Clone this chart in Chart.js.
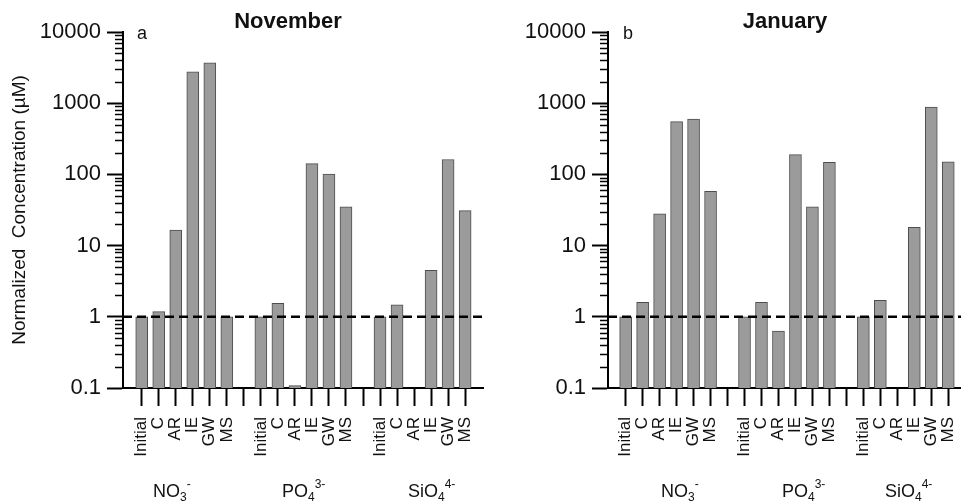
<!DOCTYPE html>
<html>
<head>
<meta charset="utf-8">
<script src="https://cdn.jsdelivr.net/npm/chart.js@4.4.1/dist/chart.umd.min.js"></script>
<style>
  html, body { margin: 0; padding: 0; background: #fff; }
  #wrap { position: relative; width: 961px; height: 501px; overflow: hidden; }
  canvas { position: absolute; top: 0; }
  #novChart { left: 0; }
  #janChart { left: 480px; }
</style>
</head>
<body>
<div id="wrap">
  <canvas id="novChart" width="520" height="501"></canvas>
  <canvas id="janChart" width="520" height="501"></canvas>
</div>
<script>
// ---------- data ----------
const treatments = ['Initial', 'C', 'AR', 'IE', 'GW', 'MS'];
const yTicks = [0.1, 1, 10, 100, 1000, 10000];
const refValue = 1;

// November
const novNO3  = [1, 1.18, 16.5, 2750, 3700, 1];
const novPO4  = [1, 1.55, 0.108, 142, 101, 35];
const novSiO4 = [1, 1.47, null, 4.5, 162, 31];

// January
const janNO3  = [1, 1.6, 28, 550, 600, 58];
const janPO4  = [1, 1.6, 0.63, 190, 35, 148];
const janSiO4 = [1, 1.7, null, 18, 880, 150];

const FONT = '"Liberation Sans", Arial, Helvetica, sans-serif';

// x slots: 6 treatments + 1 empty slot per nutrient group
const slotLabels = [];
[0, 1, 2].forEach(g => {
    treatments.forEach(t => slotLabels.push(t));
    if (g < 2) slotLabels.push('');
});

function toPoints(groups) {
    const pts = [];
    groups.forEach((vals, g) => {
        vals.forEach((v, i) => pts.push({ x: g * 7 + i, y: v }));
    });
    return pts;
}

// ---------- extra drawing: ref line, minor ticks, texts ----------
const decorPlugin = {
    id: 'decor',
    afterDatasetsDraw(chart) {
        const { ctx, chartArea, scales } = chart;
        const y = scales.y.getPixelForValue(refValue);
        ctx.save();
        ctx.strokeStyle = '#000';
        ctx.lineWidth = 2.5;
        ctx.setLineDash([9, 5]);
        ctx.beginPath();
        ctx.moveTo(chartArea.left, y);
        ctx.lineTo(chartArea.right, y);
        ctx.stroke();
        ctx.restore();
    },
    afterDraw(chart, args, opts) {
        const { ctx, chartArea, scales } = chart;
        ctx.save();
        // minor log ticks
        ctx.strokeStyle = '#000';
        ctx.lineWidth = 1.5;
        for (let e = -1; e < 4; e++) {
            for (let m = 2; m <= 9; m++) {
                const py = Math.round(scales.y.getPixelForValue(m * Math.pow(10, e))) + 0.5;
                ctx.beginPath();
                ctx.moveTo(chartArea.left - 8, py);
                ctx.lineTo(chartArea.left, py);
                ctx.stroke();
            }
        }
        // panel title + letter
        ctx.fillStyle = '#111';
        ctx.textAlign = 'center';
        ctx.textBaseline = 'middle';
        ctx.font = 'bold 22px ' + FONT;
        ctx.fillText(opts.title, opts.titleX, 22);
        ctx.textAlign = 'left';
        ctx.font = '18px ' + FONT;
        ctx.fillText(opts.letter, opts.letterX, 34);
        // nutrient group labels with sub/superscripts
        ctx.textBaseline = 'alphabetic';
        const base = 497;
        opts.groups.forEach(gl => {
            let x = gl.x;
            ctx.font = '18px ' + FONT;
            ctx.fillText(gl.main, x, base);
            x += ctx.measureText(gl.main).width;
            ctx.font = '12px ' + FONT;
            ctx.fillText(gl.sub, x, base + 4);
            const w = ctx.measureText(gl.sub).width;
            ctx.fillText(gl.sup, x + w, base - 9);
        });
        ctx.restore();
    }
};

function makeChart(canvasId, groups, cfg) {
    return new Chart(document.getElementById(canvasId), {
        type: 'bar',
        data: {
            datasets: [{
                data: toPoints(groups),
                backgroundColor: '#9b9b9b',
                borderColor: '#4d4d4d',
                borderWidth: 1,
                barThickness: 12
            }]
        },
        options: {
            responsive: false,
            animation: false,
            layout: { padding: { top: 32, right: cfg.padRight, bottom: 0, left: 0 } },
            plugins: {
                legend: { display: false },
                tooltip: { enabled: false },
                decor: cfg.decor
            },
            scales: {
                x: {
                    type: 'linear',
                    offset: false,
                    min: cfg.xMin,
                    max: cfg.xMax,
                    afterBuildTicks: s => { s.ticks = slotLabels.map((l, i) => ({ value: i })); },
                    afterFit: s => { s.height = 113; },
                    ticks: {
                        autoSkip: false,
                        minRotation: 90,
                        maxRotation: 90,
                        padding: 11,
                        color: '#111',
                        font: { family: FONT, size: 17 },
                        callback: v => slotLabels[v]
                    },
                    grid: {
                        drawOnChartArea: false,
                        offset: false,
                        tickLength: 18,
                        tickWidth: 2,
                        tickColor: '#000'
                    },
                    border: { color: '#000', width: 2 }
                },
                y: {
                    type: 'logarithmic',
                    min: yTicks[0],
                    max: yTicks[yTicks.length - 1],
                    afterBuildTicks: s => { s.ticks = yTicks.map(v => ({ value: v })); },
                    afterFit: s => { s.width = cfg.yWidth; },
                    ticks: {
                        autoSkip: false,
                        padding: 6,
                        color: '#111',
                        font: { family: FONT, size: 22 },
                        callback: v => String(v)
                    },
                    grid: {
                        drawOnChartArea: false,
                        tickLength: 16,
                        tickWidth: 2,
                        tickColor: '#000'
                    },
                    border: { color: '#000', width: 2 },
                    title: {
                        display: cfg.yTitle !== '',
                        text: cfg.yTitle,
                        color: '#111',
                        font: { family: FONT, size: 19 },
                        padding: { top: 8, bottom: 0 }
                    }
                }
            }
        },
        plugins: [decorPlugin]
    });
}

// canvases are 520 wide; right padding puts the plot edge where the figure has it
makeChart('novChart', [novNO3, novPO4, novSiO4], {
    padRight: 37,
    xMin: -1.1,
    xMax: 20.05,
    yWidth: 123,
    yTitle: 'Normalized  Concentration (\u00B5M)',
    decor: {
        title: 'November', titleX: 288, letter: 'a', letterX: 137,
        groups: [
            { x: 153, main: 'NO', sub: '3', sup: '-' },
            { x: 282, main: 'PO', sub: '4', sup: '3-' },
            { x: 408, main: 'SiO', sub: '4', sup: '4-' }
        ]
    }
});

makeChart('janChart', [janNO3, janPO4, janSiO4], {
    padRight: 39,
    xMin: -1.04,
    xMax: 19.75,
    yWidth: 128,
    yTitle: '',
    decor: {
        title: 'January', titleX: 305, letter: 'b', letterX: 143,
        groups: [
            { x: 181, main: 'NO', sub: '3', sup: '-' },
            { x: 302, main: 'PO', sub: '4', sup: '3-' },
            { x: 405, main: 'SiO', sub: '4', sup: '4-' }
        ]
    }
});
</script>
</body>
</html>
